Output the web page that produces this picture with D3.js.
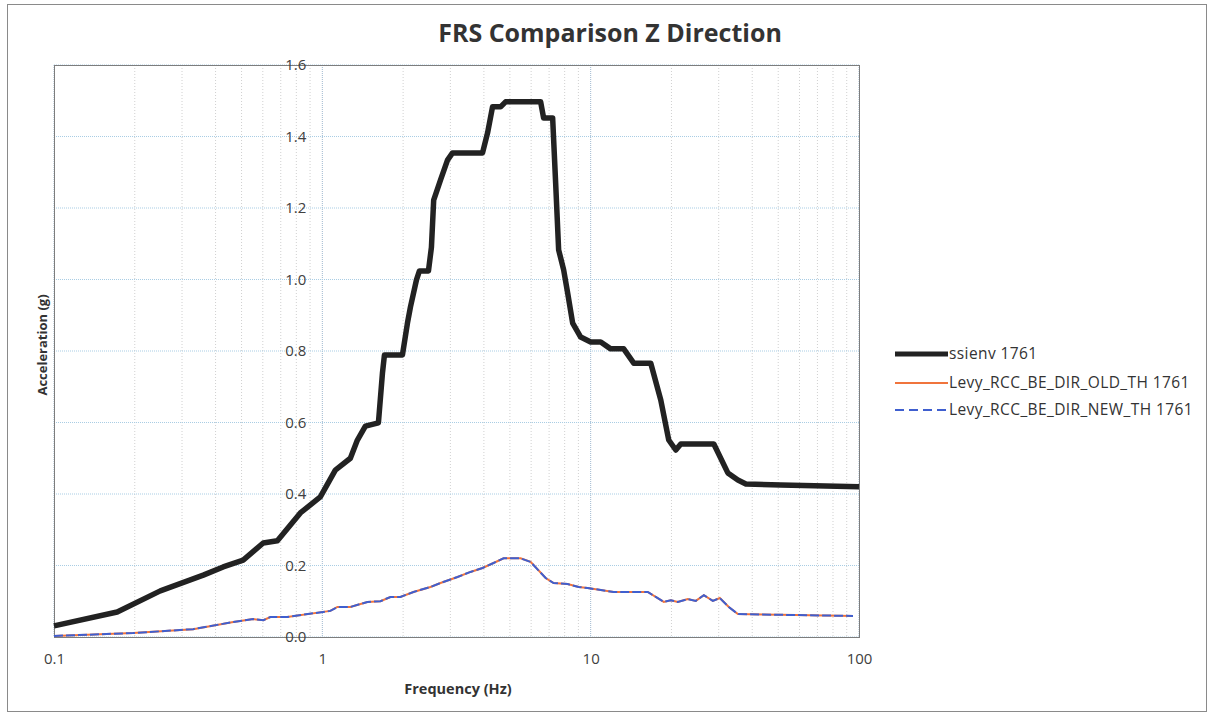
<!DOCTYPE html>
<html>
<head>
<meta charset="utf-8">
<script src="https://cdn.jsdelivr.net/npm/d3@7"></script>
<style>
    body { margin: 0; background: #ffffff; font-family: "Open Sans", sans-serif; }
</style>
</head>
<body>
<script>
// ssienv 1761 envelope
const ssienvFreq = [0.1, 0.172, 0.249, 0.36, 0.427, 0.507, 0.602, 0.68, 0.828, 0.983,
    1.118, 1.272, 1.351, 1.447, 1.618, 1.675, 1.704, 1.989, 2.076, 2.13, 2.243, 2.301,
    2.486, 2.55, 2.6, 2.756, 2.927, 3.056, 3.954, 4.128, 4.309, 4.616, 4.818, 6.509,
    6.678, 7.216, 7.404, 7.597, 7.931, 8.208, 8.568, 9.178, 10.0, 10.9, 11.87, 13.28,
    14.47, 16.75, 18.25, 19.54, 20.76, 21.67, 28.77, 32.45, 35.37, 37.88, 51.17, 100]
const ssienvAcc = [0.031, 0.07, 0.129, 0.173, 0.196, 0.215, 0.263, 0.269, 0.347, 0.392,
    0.467, 0.50, 0.551, 0.59, 0.599, 0.738, 0.789, 0.789, 0.878, 0.923, 0.999, 1.024,
    1.024, 1.09, 1.222, 1.278, 1.334, 1.354, 1.354, 1.41, 1.483, 1.483, 1.497, 1.497,
    1.452, 1.452, 1.27, 1.083, 1.027, 0.962, 0.878, 0.839, 0.825, 0.825, 0.806, 0.806,
    0.766, 0.766, 0.663, 0.551, 0.523, 0.54, 0.54, 0.459, 0.439, 0.428, 0.425, 0.42]

// time history spectra (old and new read the same)
const thFreq = [0.1, 0.197, 0.33, 0.466, 0.553, 0.603, 0.64, 0.74, 1.071, 1.138,
    1.272, 1.472, 1.646, 1.794, 1.954, 2.186, 2.529, 2.756, 3.189, 3.566, 3.954,
    4.346, 4.737, 5.481, 5.973, 6.795, 7.276, 8.208, 9.022, 9.745, 12.18, 16.32,
    18.73, 19.89, 21.12, 23.01, 24.65, 26.41, 28.53, 30.29, 32.72, 35.37, 51.17, 95]
const oldAcc = [0.003, 0.011, 0.022, 0.042, 0.05, 0.047, 0.056, 0.056, 0.073, 0.084,
    0.084, 0.098, 0.1, 0.112, 0.112, 0.126, 0.14, 0.151, 0.168, 0.182, 0.193,
    0.207, 0.22, 0.22, 0.21, 0.165, 0.151, 0.148, 0.14, 0.137, 0.126, 0.126,
    0.098, 0.103, 0.098, 0.106, 0.101, 0.117, 0.101, 0.109, 0.084, 0.064, 0.062, 0.059]
const newAcc = [0.003, 0.011, 0.022, 0.042, 0.05, 0.047, 0.056, 0.056, 0.073, 0.084,
    0.084, 0.098, 0.1, 0.112, 0.112, 0.126, 0.14, 0.151, 0.168, 0.182, 0.193,
    0.207, 0.22, 0.22, 0.21, 0.165, 0.151, 0.148, 0.14, 0.137, 0.126, 0.126,
    0.098, 0.103, 0.098, 0.106, 0.101, 0.117, 0.101, 0.109, 0.084, 0.064, 0.062, 0.059]

const seriesNames = ["ssienv 1761", "Levy_RCC_BE_DIR_OLD_TH 1761", "Levy_RCC_BE_DIR_NEW_TH 1761"]
const xTicks = [0.1, 1, 10, 100]
const yTicks = [0, 0.2, 0.4, 0.6, 0.8, 1.0, 1.2, 1.4, 1.6]

document.addEventListener("DOMContentLoaded", () => {
    const svgWidth = 1210
    const svgHeight = 714

    const svg = d3.select("body").append("svg")
        .attr("width", svgWidth)
        .attr("height", svgHeight)

    /* outer chart frame */
    svg.append("rect")
        .attr("x", 7.5).attr("y", 4.5)
        .attr("width", 1199).attr("height", 707)
        .attr("fill", "#fff")
        .attr("stroke", "#8a8a8a")

    const plot = { left: 54, right: 859, top: 65, bottom: 637 }

    const xScale = d3.scaleLog()
        .domain([0.1, 100])
        .range([plot.left, plot.right])

    const yScale = d3.scaleLinear()
        .domain([0, 1.6])
        .range([plot.bottom, plot.top])

    /* grid lines */
    const minorX = []
    for (let dec = 0.1; dec < 100; dec *= 10) {
        for (let k = 2; k <= 9; k++) minorX.push(dec * k)
    }
    svg.append("g").selectAll("line")
        .data(minorX)
        .enter()
        .append("line")
        .attr("x1", (d) => xScale(d)).attr("x2", (d) => xScale(d))
        .attr("y1", plot.top).attr("y2", plot.bottom)
        .attr("stroke", "#d0d0d0")
        .attr("stroke-dasharray", "1,2")

    svg.append("g").selectAll("line")
        .data(xTicks)
        .enter()
        .append("line")
        .attr("x1", (d) => xScale(d)).attr("x2", (d) => xScale(d))
        .attr("y1", plot.top).attr("y2", plot.bottom)
        .attr("stroke", "#9fb8cf")
        .attr("stroke-dasharray", "1,1")

    svg.append("g").selectAll("line")
        .data(yTicks)
        .enter()
        .append("line")
        .attr("x1", plot.left).attr("x2", plot.right)
        .attr("y1", (d) => yScale(d)).attr("y2", (d) => yScale(d))
        .attr("stroke", "#a9cde4")
        .attr("stroke-dasharray", "1,1")

    /* plot border */
    svg.append("rect")
        .attr("x", plot.left + 0.5).attr("y", plot.top + 0.5)
        .attr("width", plot.right - plot.left).attr("height", plot.bottom - plot.top)
        .attr("fill", "none")
        .attr("stroke", "#7d7d7d")

    /* axes: y labels sit at the x = 1 crossing */
    const xAxis = d3.axisBottom(xScale)
        .tickValues(xTicks)
        .tickFormat((d) => d3.format("~g")(d))
        .tickSize(0)
        .tickPadding(16)
    const xAxisG = svg.append("g")
        .attr("transform", `translate(0, ${plot.bottom})`)
        .call(xAxis)
    xAxisG.select(".domain").remove()

    const yAxis = d3.axisLeft(yScale)
        .tickValues(yTicks)
        .tickFormat(d3.format(".1f"))
        .tickSize(0)
        .tickPadding(16)
    const yAxisG = svg.append("g")
        .attr("transform", `translate(${xScale(1)}, 0)`)
        .call(yAxis)
    yAxisG.select(".domain").remove()

    svg.selectAll(".tick text")
        .attr("font-family", "Open Sans, sans-serif")
        .attr("font-size", 15)
        .attr("fill", "#404040")

    /* series */
    const line = d3.line()
        .x((d) => xScale(d[0]))
        .y((d) => yScale(d[1]))

    svg.append("path")
        .datum(thFreq.map((f, i) => [f, oldAcc[i]]))
        .attr("d", line)
        .attr("fill", "none")
        .attr("stroke", "#f0743c")
        .attr("stroke-width", 2)

    svg.append("path")
        .datum(thFreq.map((f, i) => [f, newAcc[i]]))
        .attr("d", line)
        .attr("fill", "none")
        .attr("stroke", "#3f5fcf")
        .attr("stroke-width", 2)
        .attr("stroke-dasharray", "9,3")

    svg.append("path")
        .datum(ssienvFreq.map((f, i) => [f, ssienvAcc[i]]))
        .attr("d", line)
        .attr("fill", "none")
        .attr("stroke", "#222")
        .attr("stroke-width", 5.5)
        .attr("stroke-linejoin", "round")

    /* titles */
    svg.append("text")
        .attr("x", 610).attr("y", 42)
        .attr("text-anchor", "middle")
        .attr("font-family", "Open Sans, sans-serif")
        .attr("font-weight", "bold")
        .attr("font-size", 25)
        .attr("fill", "#333")
        .text("FRS Comparison Z Direction")

    svg.append("text")
        .attr("x", 458).attr("y", 694)
        .attr("text-anchor", "middle")
        .attr("font-family", "Open Sans, sans-serif")
        .attr("font-weight", "bold")
        .attr("font-size", 14.5)
        .attr("fill", "#333")
        .text("Frequency (Hz)")

    svg.append("text")
        .attr("transform", "translate(47, 345) rotate(-90)")
        .attr("text-anchor", "middle")
        .attr("font-family", "Open Sans, sans-serif")
        .attr("font-weight", "bold")
        .attr("font-size", 13)
        .attr("fill", "#333")
        .text("Acceleration (g)")

    /* legend */
    const legendStyles = [
        { color: "#222", width: 5, dash: null },
        { color: "#f0743c", width: 2, dash: null },
        { color: "#3f5fcf", width: 2, dash: "9,5" }
    ]
    const legend = svg.append("g").attr("transform", "translate(895, 354)")
    legend.selectAll("g")
        .data(seriesNames)
        .enter()
        .append("g")
        .attr("transform", (d, i) => `translate(0, ${[0, 29, 56][i]})`)
        .each(function (d, i) {
            const g = d3.select(this)
            g.append("line")
                .attr("x1", 0).attr("x2", 53)
                .attr("stroke", legendStyles[i].color)
                .attr("stroke-width", legendStyles[i].width)
                .attr("stroke-dasharray", legendStyles[i].dash)
            g.append("text")
                .attr("x", 54).attr("y", 5)
                .attr("font-family", "Open Sans, sans-serif")
                .attr("font-size", 15.5)
                .attr("letter-spacing", 0.4)
                .attr("fill", "#333")
                .text(d)
        })
})
</script>
</body>
</html>
